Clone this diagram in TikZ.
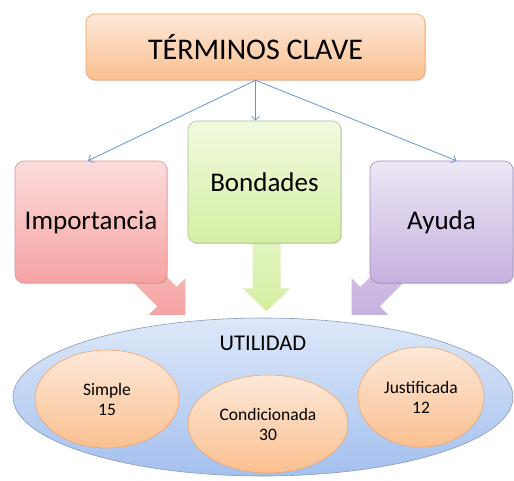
\documentclass[tikz,border=0pt]{standalone}
\usepackage{fontspec}
\setmainfont{Carlito}
\usetikzlibrary{positioning, arrows.meta, shapes.geometric, shadows, calc, backgrounds}

\definecolor{orangeTop}{HTML}{FDE8D8}
\definecolor{orangeBot}{HTML}{FAC090}
\definecolor{orangeLine}{HTML}{F2A468}
\definecolor{pinkTop}{HTML}{FCDCDC}
\definecolor{pinkBot}{HTML}{F6A2A2}
\definecolor{pinkLine}{HTML}{D99494}
\definecolor{greenTop}{HTML}{F1FAE0}
\definecolor{greenBot}{HTML}{D5EFA2}
\definecolor{greenLine}{HTML}{A9BE94}
\definecolor{violetTop}{HTML}{EDE7F5}
\definecolor{violetBot}{HTML}{C6B1DF}
\definecolor{violetLine}{HTML}{A08DBF}
\definecolor{blueTop}{HTML}{DDE8F8}
\definecolor{blueBot}{HTML}{A4C0EE}
\definecolor{blueLine}{HTML}{8A9AB6}
\definecolor{linkBlue}{HTML}{6096D0}

\begin{document}
\begin{tikzpicture}[
    x=1pt, y=-1pt,
    box/.style={draw, rounded corners=9pt, align=center, inner sep=0pt, line width=0.6pt,
        drop shadow={shadow xshift=1.2pt, shadow yshift=-1.2pt, opacity=0.25}},
    headbox/.style={box, top color=orangeTop, bottom color=orangeBot, draw=orangeLine,
        minimum width=339pt, minimum height=66pt, font=\fontsize{30}{36}\selectfont},
    term/.style={box, minimum height=122pt, font=\fontsize{27}{32}\selectfont},
    pinkbox/.style={term, top color=pinkTop, bottom color=pinkBot, draw=pinkLine},
    greenbox/.style={term, top color=greenTop, bottom color=greenBot, draw=greenLine},
    violetbox/.style={term, top color=violetTop, bottom color=violetBot, draw=violetLine},
    util/.style={ellipse, draw=blueLine, line width=0.6pt, top color=blueTop, bottom color=blueBot,
        minimum width=500pt, minimum height=158pt, inner sep=0pt},
    kind/.style={ellipse, draw=orangeLine, line width=0.6pt, top color=orangeTop, bottom color=orangeBot,
        align=center, inner sep=0pt, font=\fontsize{17.5}{20}\selectfont},
    link/.style={-{Straight Barb[length=4pt, width=8pt]}, draw=linkBlue, line width=0.8pt},
    bigarrow/.style={line join=round},
]
\useasboundingbox (0,0) rectangle (514,480);

% --- TOP ---
\node[headbox] (top) at (255.5,47) {TÉRMINOS CLAVE};

% --- THREE TERMS ---
\node[pinkbox, minimum width=152pt] (imp) at (91,222) {Importancia};
\node[greenbox, minimum width=153pt] (bond) at (264.5,182) {Bondades};
\node[violetbox, minimum width=143pt] (ayu) at (441.5,222) {Ayuda};

% Links from the top box
\draw[link] (top.south) -- ([xshift=-3pt]imp.north);
\draw[link] (top.south) -- (top.south |- bond.north);
\draw[link] (top.south) -- ([xshift=15pt]ayu.north);

% --- UTILIDAD ---
\node[util] (util) at (263,397) {};
\node[font=\fontsize{22.5}{27}\selectfont] (utiltxt) at (263,343) {UTILIDAD};
\node[kind, minimum width=144pt, minimum height=98pt] (simp) at (107,399) {Simple\\15};
\node[kind, minimum width=160pt, minimum height=98pt] (cond) at (268,424) {Condicionada\\30};
\node[kind, minimum width=126pt, minimum height=100pt] (just) at (421,397) {Justificada\\12};

% Block arrows behind the boxes
\begin{scope}[on background layer]
\fill[white] (0,0) rectangle (514,480);
\shade[bigarrow, top color=pinkTop!60!pinkBot, bottom color=pinkBot]
    ($(imp.south east)+(-60,-27)$) -- ++(50,50) -- ++(-8.5,8.5) -- ++(36.5,0)
    -- ++(0,-36.5) -- ++(-8.5,8.5) -- ++(-50,-50) -- cycle;
\shade[bigarrow, top color=greenTop!50!greenBot, bottom color=greenBot]
    ([xshift=-12pt, yshift=5pt]bond.south) -- ++(0,50) -- ++(-10,0) -- ++(24,23)
    -- ++(24,-23) -- ++(-10,0) -- ++(0,-50) -- cycle;
\shade[bigarrow, top color=violetTop!50!violetBot, bottom color=violetBot]
    ($(ayu.south west)+(60,-27)$) -- ++(-50,50) -- ++(8.5,8.5) -- ++(-36.5,0)
    -- ++(0,-36.5) -- ++(8.5,8.5) -- ++(50,-50) -- cycle;
\end{scope}

\end{tikzpicture}
\end{document}
